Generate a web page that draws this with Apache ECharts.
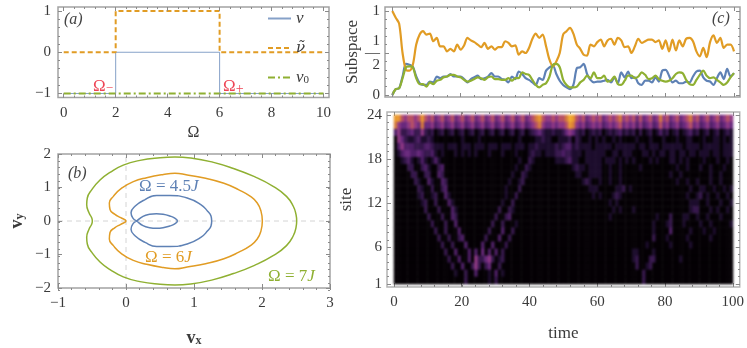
<!DOCTYPE html>
<html><head><meta charset="utf-8">
<style>html,body{margin:0;padding:0;background:#fff}#c{width:747px;height:348px}</style>
<script src="https://cdn.jsdelivr.net/npm/echarts@6/dist/echarts.min.js"></script>
</head><body><div id="c"></div>
<script>
const BLUE='#5E81B5',ORANGE='#E19C24',GREEN='#8FB032',RED='#EE4455',TXT='#3a3a3a',FRAME='#a2a2a2',TICK='#8a8a8a',FONT='"Liberation Serif",serif';

// panel (a)
const nuSteps=[[0,-1],[2,-1],[2,0],[6,0],[6,-1],[10,-1]];
const nuTildeSteps=[[0,0],[2,0],[2,1],[6,1],[6,0],[10,0]];
const nuZeroSteps=[[0,-1],[10,-1]];

// panel (b): half of each curve as [vx,vy]; the other half is its mirror
const curve45=[[1.26,0],[1.25,.147],[1.20,.294],[1.10,.49],[.90,.686],[.647,.76],[.451,.76],[.28,.637],[.132,.44],[.074,.245],[.108,.069],[.157,0],[.25,-.14],[.348,-.2],[.447,-.216],[.545,-.2],[.643,-.15],[.717,-.085],[.756,0]];
const curve6=[[2.005,0],[1.985,.294],[1.93,.539],[1.83,.735],[1.66,.931],[1.44,1.127],[1.17,1.275],[.90,1.373],[.72,1.425],[.55,1.39],[.304,1.294],[.108,1.176],[-.064,.98],[-.186,.735],[-.245,.54],[-.235,.343],[-.162,.196],[-.078,.098],[0,0]];
const curve7=[[2.51,0],[2.50,.196],[2.46,.441],[2.36,.735],[2.17,1.029],[1.89,1.324],[1.58,1.569],[1.26,1.765],[.95,1.882],[.72,1.912],[.5,1.89],[.206,1.81],[-.04,1.667],[-.235,1.45],[-.382,1.225],[-.505,.93],[-.569,.686],[-.578,.49],[-.544,.245],[-.505,.098],[-.495,0]];

// panel (c), one value per unit of time
const subBlue=[0,.07,.08,.22,.37,.36,.34,.22,.14,.12,.12,.16,.15,.22,.20,.22,.22,.25,.22,.22,.22,.19,.15,.19,.21,.23,.19,.20,.22,.26,.22,.22,.19,.18,.15,.22,.19,.28,.25,.20,.18,.15,.12,.20,.18,.29,.33,.35,.25,.17,.12,.09,.07,.12,.32,.33,.37,.25,.18,.15,.16,.16,.17,.18,.15,.21,.14,.27,.21,.28,.20,.21,.14,.12,.17,.17,.15,.21,.16,.29,.30,.23,.15,.17,.14,.14,.16,.15,.22,.28,.29,.21,.17,.16,.12,.20,.27,.19,.31,.22,.26];
const subOrange=[1,.92,.85,.50,.30,.29,.36,.60,.72,.76,.72,.73,.64,.68,.58,.58,.52,.55,.52,.60,.54,.59,.68,.65,.63,.60,.57,.62,.55,.58,.54,.57,.57,.64,.62,.58,.59,.48,.52,.50,.56,.67,.73,.68,.72,.58,.42,.34,.40,.50,.72,.76,.80,.73,.60,.55,.48,.47,.60,.58,.63,.66,.58,.65,.67,.60,.68,.65,.57,.58,.50,.58,.67,.62,.64,.66,.66,.63,.65,.55,.65,.52,.66,.53,.65,.58,.67,.68,.64,.52,.46,.56,.45,.63,.71,.62,.68,.56,.60,.60,.52];
const subGreen=[0,.07,.08,.20,.33,.34,.33,.20,.13,.13,.10,.15,.13,.17,.18,.21,.22,.24,.24,.22,.21,.18,.16,.17,.19,.21,.20,.18,.21,.22,.19,.19,.18,.18,.20,.17,.20,.20,.27,.25,.24,.18,.12,.09,.12,.14,.22,.36,.37,.33,.18,.12,.09,.09,.10,.15,.18,.23,.20,.27,.20,.20,.23,.16,.17,.22,.13,.12,.17,.23,.23,.20,.22,.27,.24,.19,.20,.23,.19,.17,.16,.17,.20,.25,.27,.26,.18,.13,.12,.18,.24,.29,.23,.20,.21,.18,.15,.12,.15,.21,.26];

// heat map: top row is site 24; one digit per unit of time (0 dark .. 9 bright)
const heatRows=[
"8865665686 5645645645 6456456456 4564564564 5678655656 6798656456 5645656756 5646456457 5645645675 6456456456 5",
"7544565474 4534534534 5345345345 3453453453 4567544545 5687545345 4534545645 4535345346 4534534564 5345345345 4",
"3522342252 1201201201 2012012012 0120120120 1234211211 2454212012 1201212312 1202012013 1201201231 2012012012 1",
"0542112311 2100000000 1000010000 0000000100 0011211001 1120210010 1010010100 0010001000 1000100110 0010011010 1",
"0353332223 3211101110 1110111011 1011101110 1121111121 2331211110 1111101111 1101101110 1111110111 1011111011 1",
"0134433432 2310100010 1010100010 0010001000 1211011122 3221110111 1110011011 1000110101 1011011011 0111011011 1",
"0012310131 0131000000 0000000000 0000000100 2100000011 1231100111 1101110101 0100001010 0011010100 0010001001 0",
"0000220023 1002300000 0000000000 0000001002 1000000000 0001211011 1100100100 0001000000 0000100100 0100100010 0",
"0000022002 2003200000 0000000000 0000010021 0000000000 0000110011 1100100100 0000000000 0010010000 0000100100 0",
"0000002100 3100320000 0000000000 0000100120 0000000000 0000001210 0100100100 0000000000 0000100100 1000100100 0",
"0000000210 0200230000 0000000000 0001000200 0000000000 0000000011 1000001120 1000000000 0000000010 0110010010 1",
"0000000120 0120031000 0000000000 0001002000 0000000000 0000000001 0100012100 0000000000 0000000100 1201001001 0",
"0000000012 0020003100 0000000000 0010020000 0000000000 0000000000 0000101000 0000000000 0000000011 1001000100 1",
"0000000002 0002000310 0000000000 0200210000 0000000000 0000000000 0000010100 0100000000 0000000012 2000101001 0",
"0000000000 2000200320 0000000000 2002300000 0000000000 0000000000 0000100000 0000000010 0020001100 1001000100 0",
"0000000000 0200020030 0000000002 0020001000 0000000000 0000000000 0000000000 0000000100 0120001000 0100100000 1",
"0000000000 0020020003 0000000020 0030020000 0000000000 0000000000 0000000000 0000000100 0030000010 0010010000 0",
"0000000000 0002002002 3000000200 0300200000 0000000000 0000000000 0000000000 0000000200 0100000100 0000100000 0",
"0000000000 0000200200 0300003003 0002000000 0000000000 0000000000 0000000000 0000010000 0010000010 0000000000 0",
"0000000000 0000020030 0030304030 3020000000 0000000000 0000000000 0000000000 0110000100 0000000000 0000000000 0",
"0000000000 0000002003 0030522452 0120000000 0000000000 0000000000 0000000000 0120002200 0000010000 0000000000 0",
"0000000000 0000000200 3002520240 0200000000 0000000000 0000000000 0000000000 0020012000 0000000000 0000000000 0",
"0000000000 0000000010 0200300010 3010000000 0000000000 0000000000 0000000000 0000200000 0000000000 0000000000 0",
"0000000000 0000000000 0200000010 2000000000 0000000000 0000000000 0000000000 0000200000 0000000000 0000000000 0"
];
const times=subBlue.map((_,i)=>i);
const sites=heatRows.map((_,i)=>24-i).reverse();

const xTicksA=[0,2,4,6,8,10], yTicksA=[-1,0,1];
const xTicksB=[-1,0,1,2,3], yTicksB=[-2,-1,0,1,2];
const xTicksC=[0,20,40,60,80,100], yTicksC=[0,.5,1];
const yTicksHeat=[1,6,12,18,24];

const range=(a,b,s)=>{const r=[];for(let i=0;Math.round(a*1e6+i*s*1e6)<=Math.round(b*1e6);i++)r.push(+(a+i*s).toFixed(4));return r;};
const minus=v=>String(v).replace('-','\u2212');

const grid=[],xAxis=[],yAxis=[];
function panel(rect,xr,yr,xT,yT,xM,yM,opt){
  opt=opt||{};
  const g=grid.length;
  const frame=opt.frame||FRAME;
  const mainX=xAxis.length;
  grid.push({...rect,show:true,backgroundColor:'transparent',borderColor:frame,borderWidth:1.5,z:5});
  const axis=(range,ticks,pos,labels,extra)=>({type:'value',gridIndex:g,min:range[0],max:range[1],position:pos,z:6,
    axisLine:{show:false,onZero:false},splitLine:{show:false},minorTick:{show:false},
    axisTick:{show:true,inside:true,length:4,lineStyle:{color:TICK,width:1},customValues:ticks},
    axisLabel:labels?{show:true,customValues:ticks,color:TXT,fontFamily:FONT,fontSize:15,margin:labels.margin,formatter:labels.fmt||minus,lineHeight:labels.lh,hideOverlap:false,showMinLabel:true,showMaxLabel:true}:{show:false},
    ...(extra||{})});
  xAxis.push(axis(xr,xT,'bottom',opt.noXLabels?null:{margin:8},opt.xName));
  xAxis.push(axis(xr,xT,'top',null));
  yAxis.push(axis(yr,yT,'left',{margin:opt.yMargin||7,fmt:opt.yFmt,lh:opt.yLh},opt.yName));
  yAxis.push(axis(yr,yT,'right',null));
  // overlay grid holding the short minor ticks
  grid.push({...rect,show:false});
  const m=(range,ticks,pos)=>{const a=axis(range,ticks,pos,null);a.gridIndex=g+1;a.axisTick.length=2;return a;};
  xAxis.push(m(xr,xM,'bottom'));xAxis.push(m(xr,xM,'top'));
  yAxis.push(m(yr,yM,'left'));yAxis.push(m(yr,yM,'right'));
  return mainX;
}
const nameCommon=(gap,size,extra)=>({nameLocation:'middle',nameGap:gap,nameTextStyle:{color:TXT,fontFamily:FONT,fontSize:size,...(extra||{})}});
const boldRich={rich:{b:{fontFamily:FONT,fontWeight:'bold',fontSize:18,color:TXT},s:{fontFamily:FONT,fontWeight:'bold',fontSize:12,color:TXT,padding:[6,0,0,0]}}};

const axA=panel({left:58,top:7,width:271,height:90.5},[-.22,10.21],[-1.097,1.097],xTicksA,yTicksA,range(0,10,.4),range(-1,1,.2),
  {xName:{name:'Ω',...nameCommon(27,16)}});
const axB=panel({left:58,top:154,width:272,height:136},[-1,3],[-2,2],xTicksB,yTicksB,range(-1,3,.2),range(-2,2,.2),
  {xName:{name:'{b|v}{s|x}',...nameCommon(41,17,boldRich)},
   yName:{name:'{b|v}{s|y}',nameRotate:90,...nameCommon(32,17,boldRich)}});
const axC=panel({left:385,top:7,width:355,height:90},[-2.14,101.76],[-.024,1.048],xTicksC,yTicksC,range(0,100,4),range(0,1,.1),
  {noXLabels:true,yMargin:5,yLh:12,yFmt:v=>v===.5?'1\n\u2014\n2':String(v),yName:{name:'Subspace',nameRotate:90,...nameCommon(21,17)}});
// heat-map cells use their own band axes, the frame uses value axes
const heatGrid=grid.length;
grid.push({left:394,top:115,width:339,height:169,show:false});
const heatX=xAxis.length,heatY=yAxis.length;
xAxis.push({type:'category',gridIndex:heatGrid,data:times,show:false});
yAxis.push({type:'category',gridIndex:heatGrid,data:sites,show:false});
const axH=panel({left:387,top:112,width:353,height:175},[-2.06,102.06],[.59,24.41],xTicksC,yTicksHeat,range(0,100,4),range(1,24,1),
  {frame:'#b4b4b4',yMargin:5,xName:{name:'time',...nameCommon(38,17)},yName:{name:'site',nameRotate:90,...nameCommon(32,17)}});

// closed path: half + mirror, started away from the axis so no end-cap kink shows on the curve
const closed=(c,k)=>{const a=c.concat(c.slice(1,-1).reverse().map(p=>[p[0],-p[1]]));const r=a.slice(k).concat(a.slice(0,k));return r.concat(r.slice(0,3));};
const ln=(ax,name,data,color,w,extra)=>({type:'line',name,data,xAxisIndex:ax,yAxisIndex:ax,symbol:'none',silent:true,animation:false,lineStyle:{color,width:w},itemStyle:{color},...(extra||{})});

const series=[
 ln(axA,'ν',nuSteps,BLUE,1,{lineStyle:{color:BLUE,width:1,opacity:.75}}),
 ln(axA,'ν\u0303',nuTildeSteps,ORANGE,2,{lineStyle:{color:ORANGE,width:2,type:[5,3]}}),
 ln(axA,'ν0',nuZeroSteps,GREEN,2,{lineStyle:{color:GREEN,width:2,type:[7,3,2,3]}}),
 ln(axB,'guideX',[[-1,0],[3,0]],'#d4d4d4',1,{lineStyle:{color:'#d4d4d4',width:1,type:[5,4]}}),
 ln(axB,'guideY',[[0,-2],[0,2]],'#d4d4d4',1,{lineStyle:{color:'#d4d4d4',width:1,type:[5,4]}}),
 ln(axB,'Ω=4.5J',closed(curve45,5),BLUE,1.5,{smooth:.5}),
 ln(axB,'Ω=6J',closed(curve6,5),ORANGE,1.5,{smooth:.5}),
 ln(axB,'Ω=7J',closed(curve7,5),GREEN,1.5,{smooth:.5}),
 ln(axC,'blue',times.map((t,i)=>[t,subBlue[i]]),BLUE,2.2,{smooth:.3}),
 ln(axC,'orange',times.map((t,i)=>[t,subOrange[i]]),ORANGE,2.2,{smooth:.3}),
 ln(axC,'green',times.map((t,i)=>[t,subGreen[i]]),GREEN,2.2,{smooth:.3})
];
const heatData=[];
heatRows.forEach((row,r)=>{[...row.replace(/ /g,'')].forEach((c,t)=>heatData.push([t,23-r,+c]));});
series.push({type:'heatmap',name:'heat',data:heatData,xAxisIndex:heatX,yAxisIndex:heatY,silent:true,animation:false,progressive:0,zlevel:1});

const txt=(left,top,text,fill)=>({type:'text',left,top,z:20,style:{text,fill:fill||TXT,font:'italic 16px '+FONT}});
const it=(c,sz)=>({fontFamily:FONT,fontStyle:'italic',fontSize:sz||16,fill:c,color:c});
const rm=(c,sz)=>({fontFamily:FONT,fontSize:sz||16,fill:c,color:c});
const graphic=[
 txt(64,12,'(a)','#444'),
 txt(68,166,'(b)','#444'),
 txt(712,11,'(c)','#444'),
 {type:'text',left:93,top:78,z:20,style:{text:'{a|Ω}{b|−}',rich:{a:rm(RED,17),b:{...rm(RED,13),padding:[5,0,0,0]}},fill:RED}},
 {type:'text',left:223,top:78,z:20,style:{text:'{a|Ω}{b|+}',rich:{a:rm(RED,17),b:{...rm(RED,14),padding:[5,0,0,0]}},fill:RED}},
 {type:'text',left:139,top:178,z:20,style:{text:'{a|Ω = 4.5}{b|J}',rich:{a:rm(BLUE,17),b:it(BLUE,17)},fill:BLUE}},
 {type:'text',left:145,top:249,z:20,style:{text:'{a|Ω = 6}{b|J}',rich:{a:rm(ORANGE,17),b:it(ORANGE,17)},fill:ORANGE}},
 {type:'text',left:268,top:268,z:20,style:{text:'{a|Ω = 7}{b|J}',rich:{a:rm(GREEN,17),b:it(GREEN,17)},fill:GREEN}}
];

const chart=echarts.init(document.getElementById('c'),null,{renderer:'canvas'});
chart.setOption({animation:false,backgroundColor:'#fff',grid,xAxis,yAxis,series,graphic,
 legend:{show:true,orient:'vertical',left:267,top:10,padding:0,itemWidth:23,itemHeight:14,itemGap:13.5,selectedMode:false,
  itemStyle:{opacity:0},
  data:['ν','ν\u0303','ν0'],
  formatter:n=>n==='ν0'?'{i|ν}{s|0}':(n==='ν'?'{i|ν}':'{t|ν\u0303}'),
  textStyle:{color:TXT,fontFamily:FONT,fontSize:16,rich:{i:{fontFamily:FONT,fontStyle:'italic',fontSize:17,color:TXT},t:{fontFamily:'"DejaVu Serif",serif',fontStyle:'italic',fontSize:15,color:TXT},s:{fontFamily:FONT,fontSize:11,color:TXT,padding:[6,0,0,0]}}}},
 visualMap:{show:false,type:'continuous',min:0,max:9,seriesIndex:series.length-1,dimension:2,
  inRange:{color:['#040004','#1c0c2c','#36174c','#4e1e66','#68287c','#8f3884','#b85264','#d67c3c','#ea982e','#f4b030']}}
});
// soften only the canvas layer that holds the heat-map cells
const layers=chart.getDom().querySelectorAll('canvas');
if(layers.length>1)layers[layers.length-1].style.filter='blur(1.2px)';
</script></body></html>
